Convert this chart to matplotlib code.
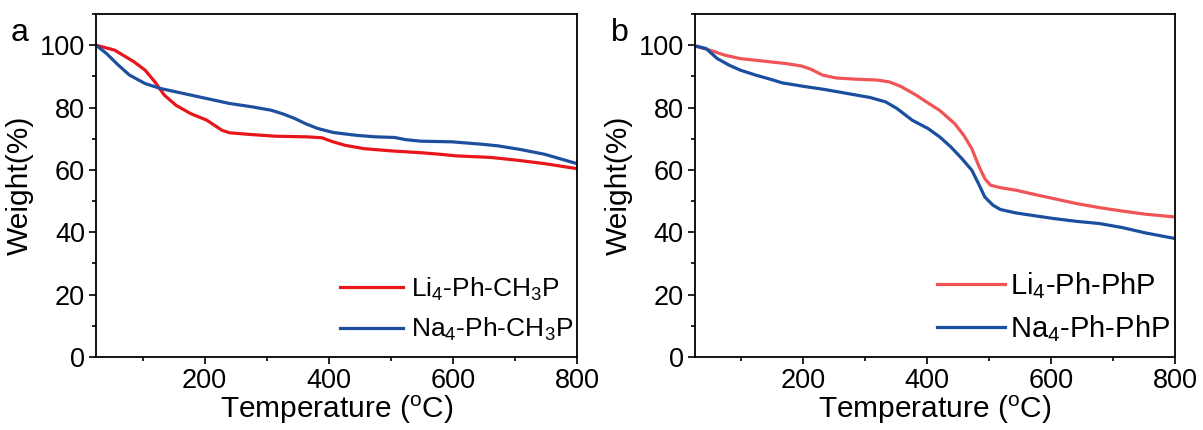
import matplotlib
matplotlib.use("Agg")
import matplotlib.pyplot as plt
from matplotlib.ticker import MultipleLocator

plt.rcParams['font.family'] = ['Liberation Sans', 'DejaVu Sans']
plt.rcParams['mathtext.default'] = 'regular'

# panel a: TGA curves
temp_li_a = [25, 55, 86, 104, 120, 135, 154, 178, 203, 228, 240, 271, 314, 364, 389, 407,
             426, 457, 500, 549, 580, 605, 661, 704, 748, 800]
weight_li_a = [100, 98.4, 94.7, 92.0, 88.2, 84.0, 80.7, 78.0, 76.0, 72.7, 71.9, 71.4, 70.8,
               70.6, 70.3, 69.0, 67.9, 66.8, 66.1, 65.5, 65.0, 64.5, 64.0, 63.1, 62.0, 60.4]
temp_na_a = [25, 42, 61, 79, 104, 129, 166, 203, 240, 277, 308, 327, 345, 364, 382, 407,
             444, 475, 506, 524, 549, 599, 648, 673, 710, 748, 800]
weight_na_a = [100, 97.3, 93.6, 90.4, 87.7, 86.1, 84.5, 82.9, 81.3, 80.2, 79.1, 77.9, 76.5,
               74.7, 73.3, 72.0, 71.1, 70.6, 70.4, 69.7, 69.2, 69.0, 68.2, 67.7, 66.5, 65.0, 62.0]

# panel b
temp_li_b = [25, 49, 73, 98, 135, 172, 197, 212, 231, 252, 283, 320, 339, 357, 382, 401,
             420, 444, 459, 472, 484, 493, 502, 518, 543, 567, 604, 641, 678, 715, 752, 800]
weight_li_b = [99.7, 98.4, 96.8, 95.7, 94.9, 94.1, 93.3, 92.3, 90.4, 89.5, 89.1, 88.8, 88.2,
               86.8, 84.0, 81.5, 79.1, 74.9, 71.1, 66.8, 60.9, 57.2, 55.1, 54.3, 53.5, 52.4,
               50.8, 49.2, 47.9, 46.8, 45.8, 44.9]
temp_na_b = [25, 43, 61, 80, 98, 123, 148, 166, 200, 234, 271, 308, 333, 351, 376, 401, 420,
             438, 456, 472, 484, 493, 506, 518, 543, 580, 604, 641, 678, 715, 752, 800]
weight_na_b = [99.8, 98.9, 95.7, 93.6, 92.0, 90.4, 89.0, 87.9, 86.8, 85.8, 84.5, 83.2, 81.8,
               79.7, 75.9, 73.3, 70.6, 67.4, 63.6, 59.9, 55.1, 51.3, 48.7, 47.3, 46.2, 45.1,
               44.4, 43.5, 42.8, 41.5, 39.8, 38.0]

labels_a = ['Li$_4$-Ph-CH$_3$P', 'Na$_4$-Ph-CH$_3$P']
labels_b = ['Li$_4$-Ph-PhP', 'Na$_4$-Ph-PhP']

fig = plt.figure(figsize=(12.03, 4.3), dpi=100)
ax1 = fig.add_axes([0.0798, 0.1698, 0.3998, 0.7977])
ax2 = fig.add_axes([0.5777, 0.1698, 0.3990, 0.7977])


def style(ax):
    ax.set_xlim(25, 800)
    ax.set_ylim(0, 110)
    ax.xaxis.set_major_locator(MultipleLocator(200))
    ax.xaxis.set_minor_locator(MultipleLocator(100))
    ax.yaxis.set_major_locator(MultipleLocator(20))
    ax.yaxis.set_minor_locator(MultipleLocator(10))
    ax.tick_params(which='major', direction='out', length=5, width=1.2, labelsize=19.5, pad=3)
    ax.tick_params(which='minor', direction='out', length=3, width=1.2)
    for sp in ax.spines.values():
        sp.set_linewidth(1.3)
    ax.set_xlabel('Temperature ($^{o}$C)', fontsize=21.5, labelpad=0)
    ax.set_ylabel('Weight(%)', fontsize=21.5, labelpad=4)


ax1.plot(temp_li_a, weight_li_a, color='#e8151b', lw=2.3, label=labels_a[0])
ax1.plot(temp_na_a, weight_na_a, color='#1d4f9e', lw=2.3, label=labels_a[1])
style(ax1)
ax1.legend(loc='lower right', bbox_to_anchor=(1.0, 0.028), frameon=False, fontsize=19,
           handlelength=2.4, handletextpad=0.3, labelspacing=0.52,
           borderaxespad=0, borderpad=0.15)

ax2.plot(temp_li_b, weight_li_b, color='#f05456', lw=2.3, label=labels_b[0])
ax2.plot(temp_na_b, weight_na_b, color='#1a4e9e', lw=2.3, label=labels_b[1])
style(ax2)
ax2.legend(loc='lower right', bbox_to_anchor=(1.0, 0.025), frameon=False, fontsize=21,
           handlelength=2.33, handletextpad=0.2, labelspacing=0.43,
           borderaxespad=0, borderpad=0.15)

fig.text(0.009, 0.905, 'a', fontsize=23)
fig.text(0.508, 0.905, 'b', fontsize=23)

fig.savefig('out.png', dpi=100)
